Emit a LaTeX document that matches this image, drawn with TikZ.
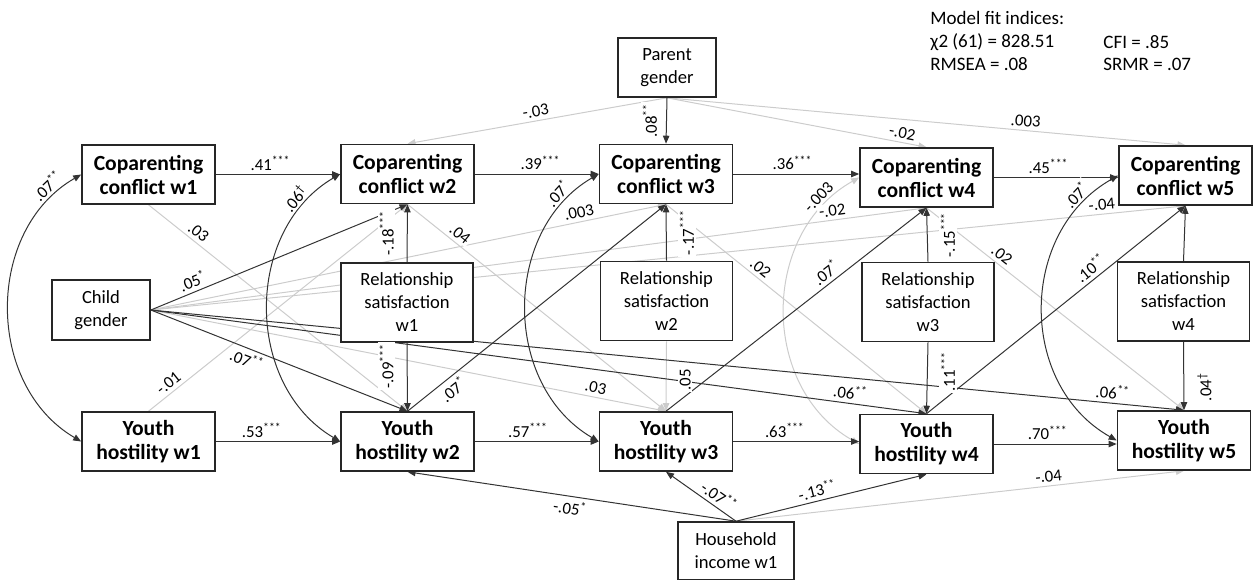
\documentclass[tikz,border=0pt]{standalone}
\usepackage{fontspec}
\setmainfont{Carlito}
\usetikzlibrary{arrows.meta}
\pgfdeclarelayer{bg}
\pgfsetlayers{bg,main}
\newcommand{\stars}[1]{\textsuperscript{#1}}

\begin{document}
\begin{tikzpicture}[x=0.5pt,y=-0.5pt,>={Triangle[length=4pt,width=3.2pt]},
  bx/.style={draw=black!85,fill=white,line width=.8pt,align=center,inner sep=0pt,minimum width=66.5pt,minimum height=29.5pt,font=\bfseries\fontsize{10.8}{12}\selectfont},
  sbx/.style={draw=black!85,fill=white,line width=.8pt,align=center,inner sep=0pt,font=\fontsize{9.3}{11.5}\selectfont},
  lbl/.style={fill=white,inner sep=.8pt,font=\fontsize{8.4}{9}\selectfont},
  sa/.style={lbl,sloped,above=1pt},
  sb/.style={lbl,sloped,below=1pt},
  vl/.style={lbl,rotate=90,outer sep=6pt,anchor=south},
  vr/.style={lbl,rotate=90,outer sep=6pt,anchor=north},
  fitx/.style={anchor=west,inner sep=0pt,font=\fontsize{9.5}{11}\selectfont},
  dk/.style={draw=black!80,line width=.5pt,->},
  lt/.style={draw=black!20,line width=.5pt,->},
  cv/.style={draw=black!80,line width=.5pt,<->}]
  \useasboundingbox (0,0) rectangle (1258,579);

  \node[fitx] (fittitle) at (930,18) {Model fit indices:};
  \node[fitx] (chisq) at (930,42) {χ2 (61) = 828.51};
  \node[fitx] (rmsea) at (930,64) {RMSEA = .08};
  \node[fitx] (cfi) at (1103,42) {CFI = .85};
  \node[fitx] (srmr) at (1103,64) {SRMR = .07};

  \node[sbx,minimum width=49pt,minimum height=29.5pt] (pg) at (667,67.5) {Parent\\gender};
  \node[sbx,minimum width=49pt,minimum height=30pt] (cg) at (101,310) {Child\\gender};
  \node[sbx,minimum width=58pt,minimum height=29pt] (hi) at (736,551) {Household\\income w1};

  \node[bx] (cc1) at (148.5,174.5) {Coparenting\\conflict w1};
  \node[bx] (cc2) at (407.5,174) {Coparenting\\conflict w2};
  \node[bx] (cc3) at (666,174) {Coparenting\\conflict w3};
  \node[bx] (cc4) at (926.5,177.5) {Coparenting\\conflict w4};
  \node[bx] (cc5) at (1185.5,175.5) {Coparenting\\conflict w5};

  \node[sbx,minimum width=66pt,minimum height=39.5pt] (rs1) at (407,302.5) {Relationship\\satisfaction\\w1};
  \node[sbx,minimum width=66pt,minimum height=39.5pt] (rs2) at (666.5,301) {Relationship\\satisfaction\\w2};
  \node[sbx,minimum width=66pt,minimum height=39.5pt] (rs3) at (928,302) {Relationship\\satisfaction\\w3};
  \node[sbx,minimum width=66pt,minimum height=39.5pt] (rs4) at (1183.5,301.5) {Relationship\\satisfaction\\w4};

  \node[bx] (yh1) at (148.5,441.5) {Youth\\hostility w1};
  \node[bx] (yh2) at (407.5,441.5) {Youth\\hostility w2};
  \node[bx] (yh3) at (666,441.5) {Youth\\hostility w3};
  \node[bx] (yh4) at (926.5,444) {Youth\\hostility w4};
  \node[bx] (yh5) at (1184,440.5) {Youth\\hostility w5};

  \begin{pgfonlayer}{bg}
    \draw[lt] (pg.south) -- (cc2.north);
    \draw[lt] (pg.south) -- (cc4.north);
    \draw[lt] (pg.south) -- (cc5.north);
    \draw[lt] (cc1.south) -- (yh2.north);
    \draw[lt] (yh1.north) -- (cc2.south);
    \draw[lt] (cc2.south) -- (yh3.north);
    \draw[lt] (cc3.south) -- (yh4.north);
    \draw[lt] (cc4.south) -- (yh5.north);
    \draw[lt] (cg.east) -- (cc3.south);
    \draw[lt] (cg.east) -- (cc4.south);
    \draw[lt] (cg.east) -- (cc5.south);
    \draw[lt] (cg.east) -- (yh3.north);
    \draw[lt] (rs2.south) -- (yh3.north);
    \draw[lt] (hi.north) -- (yh5.south);
    \draw[cv,draw=black!20] (yh4.west) .. controls (760,388) and (760,233) .. (cc4.west);

    \draw[dk] (cc1.east) -- (cc1.east -| cc2.west);
    \draw[dk] (cc2.east) -- (cc2.east -| cc3.west);
    \draw[dk] (cc3.east) -- (cc3.east -| cc4.west);
    \draw[dk] (cc4.east) -- (cc4.east -| cc5.west);
    \draw[dk] (yh1.east) -- (yh1.east -| yh2.west);
    \draw[dk] (yh2.east) -- (yh2.east -| yh3.west);
    \draw[dk] (yh3.east) -- (yh3.east -| yh4.west);
    \draw[dk] (yh4.east) -- (yh4.east -| yh5.west);
    \draw[dk] (pg.south) -- (cc3.north);
    \draw[dk] (rs1.north) -- (cc2.south);
    \draw[dk] (rs1.south) -- (yh2.north);
    \draw[dk] (rs2.north) -- (cc3.south);
    \draw[dk] (rs3.north) -- (cc4.south);
    \draw[dk] (rs3.south) -- (yh4.north);
    \draw[dk] (rs4.north) -- (cc5.south);
    \draw[dk] (rs4.south) -- (yh5.north);
    \draw[dk] (yh2.north) -- (cc3.south);
    \draw[dk] (yh3.north) -- (cc4.south);
    \draw[dk] (yh4.north) -- (cc5.south);
    \draw[dk] (cg.east) -- (cc2.south);
    \draw[dk] (cg.east) -- (yh2.north);
    \draw[dk] (cg.east) -- (yh4.north);
    \draw[dk] (cg.east) -- (yh5.north);
    \draw[dk] (hi.north) -- (yh2.south);
    \draw[dk] (hi.north) -- (yh3.south);
    \draw[dk] (hi.north) -- (yh4.south);
    \draw[cv] (yh1.west) .. controls (-15,385) and (-15,230) .. (cc1.west);
    \draw[cv] (yh2.west) .. controls (244,385) and (244,230) .. (cc2.west);
    \draw[cv] (yh3.west) .. controls (502,385) and (502,230) .. (cc3.west);
    \draw[cv] (yh5.west) .. controls (1018,385) and (1018,232) .. (cc5.west);
  \end{pgfonlayer}

  \path (cc1.east) -- (cc1.east -| cc2.west) node[lbl,above=1pt,pos=.44] {.41\stars{***}};
  \path (cc2.east) -- (cc2.east -| cc3.west) node[lbl,above=1pt,pos=.53] {.39\stars{***}};
  \path (cc3.east) -- (cc3.east -| cc4.west) node[lbl,above=1pt,pos=.47] {.36\stars{***}};
  \path (cc4.east) -- (cc4.east -| cc5.west) node[lbl,above=1pt,pos=.44] {.45\stars{***}};
  \path (yh1.east) -- (yh1.east -| yh2.west) node[lbl,above=1pt,pos=.37] {.53\stars{***}};
  \path (yh2.east) -- (yh2.east -| yh3.west) node[lbl,above=1pt,pos=.43] {.57\stars{***}};
  \path (yh3.east) -- (yh3.east -| yh4.west) node[lbl,above=1pt,pos=.41] {.63\stars{***}};
  \path (yh4.east) -- (yh4.east -| yh5.west) node[lbl,above=1pt,pos=.44] {.70\stars{***}};

  \path (pg.south) -- (cc2.north) node[sa,pos=.5] {-.03};
  \path (pg.south) -- (cc4.north) node[sa,pos=.9] {-.02};
  \path (pg.south) -- (cc5.north) node[sa,pos=.69] {.003};
  \path (pg.south) -- (cc3.north) node[vl,outer sep=4pt,pos=.5] {.08\stars{**}};

  \path (rs1.north) -- (cc2.south) node[vl,pos=.5] {-.18\stars{***}};
  \path (rs1.south) -- (yh2.north) node[vl,pos=.34] {-.09\stars{***}};
  \path (rs2.north) -- (cc3.south) node[vr,pos=.5] {-.17\stars{***}};
  \path (rs2.south) -- (yh3.north) node[vr,pos=.55] {.05};
  \path (rs3.north) -- (cc4.south) node[vr,pos=.5] {-.15\stars{***}};
  \path (rs3.south) -- (yh4.north) node[vr,pos=.41] {.11\stars{***}};
  \path (rs4.south) -- (yh5.north) node[vr,pos=.66] {.04\stars{\textdagger}};

  \path (cc1.south) -- (yh2.north) node[sa,pos=.17] {.03};
  \path (yh1.north) -- (cc2.south) node[sa,pos=.1] {-.01};
  \path (cc2.south) -- (yh3.north) node[sa,pos=.18] {.04};
  \path (yh2.north) -- (cc3.south) node[sb,pos=.15] {.07\stars{*}};
  \path (cc3.south) -- (yh4.north) node[sa,pos=.34] {.02};
  \path (yh3.north) -- (cc4.south) node[sa,pos=.64] {.07\stars{*}};
  \path (cc4.south) -- (yh5.north) node[sa,pos=.27] {.02};
  \path (yh4.north) -- (cc5.south) node[sa,pos=.66] {.10\stars{**}};

  \path (cg.east) -- (cc2.south) node[sa,pos=.18] {.05\stars{*}};
  \path (cg.east) -- (yh2.north) node[sb,pos=.39] {.07\stars{**}};
  \path (cg.east) -- (yh3.north) node[sa,pos=.86] {.03};
  \path (cg.east) -- (yh4.north) node[sa,pos=.9] {.06\stars{**}};
  \path (cg.east) -- (yh5.north) node[sa,pos=.93] {.06\stars{**}};
  \path (cg.east) -- (cc3.south) node[sa,pos=.835] {.003};
  \path (cg.east) -- (cc4.south) node[sa,pos=.88] {-.02};
  \path (cg.east) -- (cc5.south) node[sa,pos=.92] {-.04};

  \path (hi.north) -- (yh2.south) node[sb,pos=.5] {-.05\stars{*}};
  \path (hi.north) -- (yh3.south) node[sa,pos=.33] {-.07\stars{**}};
  \path (hi.north) -- (yh4.south) node[sa,pos=.44] {-.13\stars{**}};
  \path (hi.north) -- (yh5.south) node[sa,pos=.7] {-.04};

  \path (yh1.west) .. controls (-15,385) and (-15,230) .. (cc1.west) node[sa,pos=.9] {.07\stars{**}};
  \path (yh2.west) .. controls (244,385) and (244,230) .. (cc2.west) node[sa,pos=.85] {.06\stars{\textdagger}};
  \path (yh3.west) .. controls (502,385) and (502,230) .. (cc3.west) node[sa,pos=.87] {.07\stars{*}};
  \path (yh4.west) .. controls (760,388) and (760,233) .. (cc4.west) node[sa,pos=.87] {-.003};
  \path (yh5.west) .. controls (1018,385) and (1018,232) .. (cc5.west) node[sa,pos=.87] {.07\stars{*}};
\end{tikzpicture}
\end{document}
